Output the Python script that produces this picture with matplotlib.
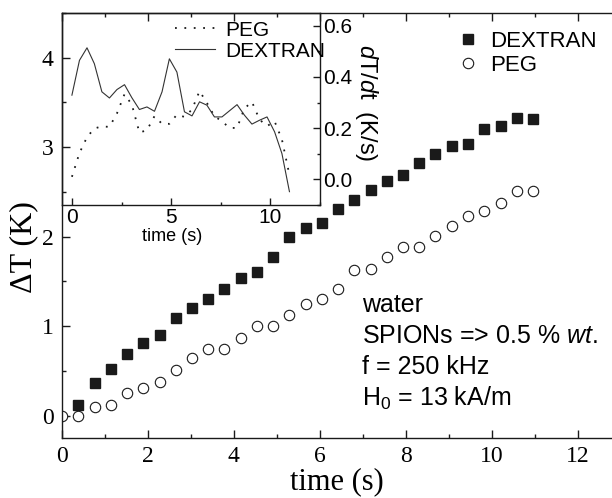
import matplotlib
matplotlib.use('Agg')
import matplotlib.pyplot as plt
from matplotlib.ticker import MultipleLocator

plt.rcParams['mathtext.fontset'] = 'custom'
plt.rcParams['mathtext.rm'] = 'Liberation Sans'
plt.rcParams['mathtext.it'] = 'Liberation Sans:italic'

SERIF = 'Liberation Serif'
SANS = 'Liberation Sans'

# time grid (s), one sample every ~0.38 s
time_s = [0.0, 0.38, 0.76, 1.13, 1.51, 1.89, 2.27, 2.65, 3.02, 3.40,
          3.78, 4.16, 4.54, 4.91, 5.29, 5.67, 6.05, 6.43, 6.80, 7.18,
          7.56, 7.94, 8.32, 8.69, 9.07, 9.45, 9.83, 10.21, 10.58, 10.96]

# temperature rise (K); dextran starts at the second sample
dextran_dT = [0.115, 0.37, 0.525, 0.69, 0.81, 0.90, 1.09, 1.20, 1.30,
              1.41, 1.54, 1.60, 1.77, 2.00, 2.10, 2.15, 2.31, 2.41, 2.52,
              2.62, 2.685, 2.82, 2.92, 3.01, 3.04, 3.20, 3.24, 3.33, 3.315]
peg_dT = [0.0, 0.0, 0.10, 0.12, 0.25, 0.31, 0.375, 0.51, 0.645, 0.75,
          0.75, 0.87, 1.005, 1.005, 1.13, 1.25, 1.30, 1.415, 1.63, 1.64,
          1.77, 1.885, 1.885, 2.01, 2.12, 2.23, 2.29, 2.38, 2.51, 2.51]

# heating rate dT/dt (K/s) for the inset
dextran_rate = [0.329, 0.465, 0.514, 0.452, 0.342, 0.318, 0.351, 0.370,
                0.319, 0.273, 0.283, 0.266, 0.342, 0.471, 0.419, 0.264,
                0.248, 0.303, 0.290, 0.244, 0.244, 0.268, 0.292, 0.251,
                0.216, 0.231, 0.244, 0.186, 0.101, -0.048]
peg_rate = [0.010, 0.103, 0.165, 0.199, 0.207, 0.205, 0.258, 0.333, 0.292,
            0.183, 0.192, 0.247, 0.217, 0.217, 0.253, 0.244, 0.273, 0.345,
            0.299, 0.247, 0.227, 0.201, 0.201, 0.277, 0.303, 0.234, 0.208,
            0.227, 0.156, 0.017]

conditions = ['water', 'SPIONs => 0.5 % $\\mathit{wt.}$', 'f = 250 kHz',
              'H$_0$ = 13 kA/m']

INK = '#1a1a1a'

fig = plt.figure(figsize=(6.12, 4.98), dpi=100)
ax = fig.add_axes([0.1013, 0.1205, 0.8987, 0.8534])

ax.plot(time_s[1:], dextran_dT, ls='none', marker='s', ms=6.5,
        mfc=INK, mec=INK, label='DEXTRAN')
ax.plot(time_s, peg_dT, ls='none', marker='o', ms=7.5, mfc='white',
        mec=INK, mew=0.8, label='PEG')

ax.set_xlim(0, 12.8)
ax.set_ylim(-0.25, 4.5)
ax.xaxis.set_major_locator(MultipleLocator(2))
ax.xaxis.set_minor_locator(MultipleLocator(1))
ax.yaxis.set_major_locator(MultipleLocator(1))
ax.yaxis.set_minor_locator(MultipleLocator(0.5))
ax.spines['right'].set_visible(False)
for s in ax.spines.values():
    s.set_linewidth(1.0)
    s.set_color(INK)
ax.tick_params(which='both', direction='in', top=True, right=False,
               color=INK, width=1.0)
ax.tick_params(which='major', length=5.5, pad=6, labelsize=17)
ax.tick_params(which='minor', length=3)
for lbl in ax.get_xticklabels() + ax.get_yticklabels():
    lbl.set_family(SERIF)

ax.set_xlabel('time (s)', family=SERIF, fontsize=22, labelpad=0)
ax.set_ylabel('\u0394T (K)', family=SERIF, fontsize=23)
ax.yaxis.set_label_coords(-0.043, 0.45)

ax.legend(loc='upper left', bbox_to_anchor=(0.72, 0.958), frameon=False,
          prop={'family': SANS, 'size': 16}, handlelength=0.9,
          handletextpad=0.55, labelspacing=0.15, borderpad=0, borderaxespad=0)

# experimental conditions
for i, line in enumerate(conditions):
    ax.text(6.98, 1.162 - i * 0.35, line, family=SANS, fontsize=18,
            va='baseline', ha='left')

# inset: heating rate
ax_in = fig.add_axes([0.1013, 0.5884, 0.4216, 0.3855])
ax_in.patch.set_alpha(0)
ax_in.plot(time_s, peg_rate, color=INK, lw=1.3, ls=(0, (1, 4.2)),
           label='PEG')
ax_in.plot(time_s, dextran_rate, color='#333333', lw=0.8, label='DEXTRAN')
ax_in.set_xlim(-0.5, 12.5)
ax_in.set_ylim(-0.1, 0.65)
ax_in.xaxis.set_major_locator(MultipleLocator(5))
ax_in.xaxis.set_minor_locator(MultipleLocator(2.5))
ax_in.yaxis.set_major_locator(MultipleLocator(0.2))
ax_in.yaxis.set_minor_locator(MultipleLocator(0.1))
ax_in.yaxis.tick_right()
ax_in.yaxis.set_label_position('right')
ax_in.yaxis.set_major_formatter(lambda v, pos: f'{v:.1f}')
for s in ax_in.spines.values():
    s.set_linewidth(1.0)
    s.set_color(INK)
ax_in.tick_params(which='both', direction='in', left=False, top=False,
                  right=True, bottom=True, color=INK, width=1.0)
ax_in.tick_params(which='major', length=5, pad=2, labelsize=15)
ax_in.tick_params(which='minor', length=2.5)
for lbl in ax_in.get_xticklabels() + ax_in.get_yticklabels():
    lbl.set_family(SANS)

ax_in.set_xlabel('time (s)', family=SANS, fontsize=13)
ax_in.xaxis.set_label_coords(0.426, -0.12)
ax_in.set_ylabel('$\\mathit{d}$T/$\\mathit{d}$t  (K/s)', family=SANS,
                 fontsize=17, rotation=-90, ha='center', va='center')
ax_in.yaxis.set_label_coords(1.18, 0.534)

ax_in.legend(loc='upper left', bbox_to_anchor=(0.438, 0.96), frameon=False,
             prop={'family': SANS, 'size': 15}, handlelength=1.9,
             handletextpad=0.5, labelspacing=0.1, borderpad=0,
             borderaxespad=0)

fig.savefig('out.png', dpi=100)
